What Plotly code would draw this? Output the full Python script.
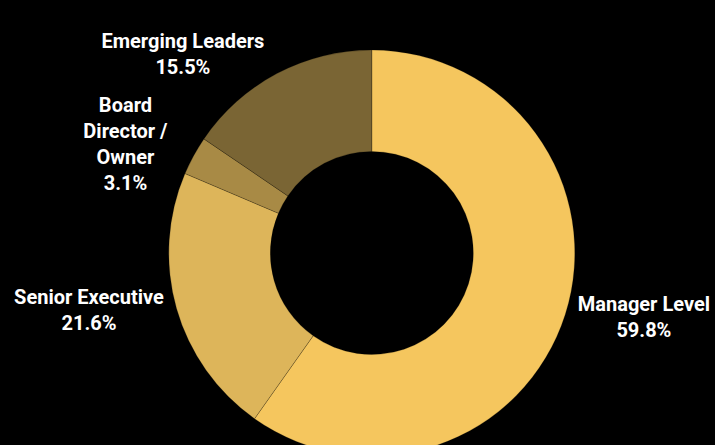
import plotly.graph_objects as go

labels = ["Manager Level", "Senior Executive", "Board<br>Director /<br>Owner", "Emerging Leaders"]
values = [59.8, 21.6, 3.1, 15.5]
colors = ["#F5C65E", "#DDB55A", "#A88A45", "#7A6534"]

fig = go.Figure(go.Pie(
    labels=labels,
    values=values,
    hole=0.5,
    sort=False,
    direction="clockwise",
    rotation=0,
    marker=dict(colors=colors, line=dict(color="rgba(0,0,0,0.35)", width=0.6)),
    texttemplate="%{label}<br>%{value:.1f}%",
    textposition="outside",
    textfont=dict(family="Roboto", size=20, color="white", weight="bold"),
    domain=dict(x=[0.04, 1.0], y=[0, 1]),
    showlegend=False,
    automargin=False,
    hoverinfo="skip",
))

fig.update_layout(
    width=715,
    height=456,
    margin=dict(l=0, r=0, t=50, b=0),
    paper_bgcolor="black",
    plot_bgcolor="black",
)

fig.write_html(
    "out.html",
    config={"displayModeBar": False},
    post_script="document.body.style.margin='0';document.body.style.overflow='hidden';document.body.style.background='black';",
)
